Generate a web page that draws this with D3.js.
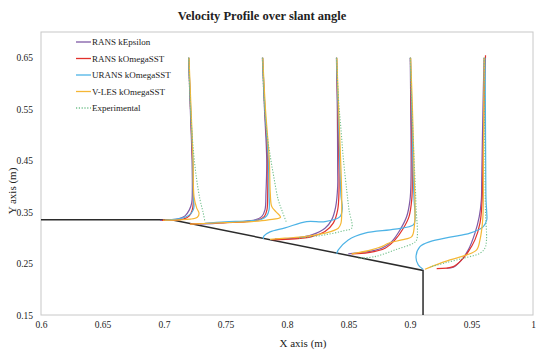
<!DOCTYPE html>
<html><head><meta charset="utf-8">
<script src="https://cdn.jsdelivr.net/npm/d3@7"></script>
<style>body{margin:0;background:#fff}svg{display:block}text{font-family:"Liberation Serif",serif !important;fill:#222}</style>
</head><body><svg id="c" width="550" height="356"></svg>
<script>
const seriesNames = ["RANS kEpsilon","RANS kOmegaSST","URANS kOmegaSST","V-LES kOmegaSST","Experimental"];
const seriesColors = ["#7f5aa6","#e2312b","#4db3e6","#f5b735","#72c08c"];
const xTicks = [0.6,0.65,0.7,0.75,0.8,0.85,0.9,0.95,1];
const yTicks = [0.15,0.25,0.35,0.45,0.55,0.65];
const wallX = [0.6,0.706,0.9106,0.9106];
const wallY = [0.335,0.335,0.2366,0.15];

// each series: five stations, each a list of [x, y] points (m)
const ransKEpsilon = [
 [[0.72,0.65],[0.7214,0.55],[0.7228,0.4516],[0.723,0.3868],[0.7225,0.3674],[0.7206,0.3543],[0.7171,0.3427],[0.7116,0.3368],[0.7049,0.3349],[0.6967,0.334]],
 [[0.78,0.65],[0.7817,0.55],[0.7835,0.4516],[0.7829,0.3868],[0.7821,0.3543],[0.7794,0.3413],[0.774,0.3349],[0.7632,0.3316],[0.7496,0.3296],[0.7415,0.3281],[0.7293,0.3271]],
 [[0.8402,0.65],[0.8409,0.55],[0.8412,0.4322],[0.8412,0.3997],[0.8396,0.3608],[0.8363,0.3349],[0.8309,0.3187],[0.8201,0.3057],[0.8092,0.3004],[0.7984,0.2979],[0.7902,0.2979]],
 [[0.9002,0.65],[0.9006,0.55],[0.9008,0.4127],[0.9,0.3738],[0.8973,0.3413],[0.8919,0.3154],[0.8851,0.2926],[0.877,0.2798],[0.8661,0.2732],[0.8553,0.2701],[0.8498,0.2687]],
 [[0.9602,0.65],[0.9593,0.55],[0.9583,0.4127],[0.958,0.3738],[0.9563,0.3413],[0.9528,0.309],[0.9474,0.2765],[0.9407,0.2537],[0.9352,0.2428],[0.9298,0.2409]]
];
const ransKOmegaSST = [
 [[0.7201,0.65],[0.7216,0.55],[0.7232,0.4516],[0.7238,0.3868],[0.7238,0.3674],[0.723,0.3543],[0.7206,0.3427],[0.7157,0.3362],[0.7076,0.3343],[0.6984,0.334]],
 [[0.7802,0.65],[0.782,0.55],[0.7843,0.4516],[0.7843,0.3868],[0.7837,0.3543],[0.7815,0.3413],[0.7767,0.3349],[0.7659,0.331],[0.7496,0.3296],[0.7211,0.3265]],
 [[0.8403,0.65],[0.8413,0.55],[0.8423,0.4322],[0.8423,0.3933],[0.8412,0.3543],[0.8376,0.3285],[0.8309,0.3121],[0.8201,0.3024],[0.8065,0.2979],[0.7878,0.2965]],
 [[0.9004,0.65],[0.901,0.55],[0.9019,0.4127],[0.9014,0.3738],[0.8992,0.3413],[0.8946,0.3187],[0.8878,0.296],[0.8797,0.2798],[0.8661,0.2712],[0.8526,0.2687]],
 [[0.9614,0.655],[0.9602,0.55],[0.9591,0.4127],[0.9585,0.3674],[0.9569,0.3285],[0.9528,0.296],[0.9474,0.2732],[0.942,0.257],[0.9352,0.244],[0.9217,0.2401]]
];
const uransKOmegaSST = [
 [[0.7201,0.65],[0.7217,0.55],[0.7234,0.4516],[0.7238,0.3802],[0.7244,0.3608],[0.7238,0.3543],[0.7217,0.3466],[0.7171,0.3401],[0.7103,0.3362],[0.7008,0.3343]],
 [[0.7802,0.65],[0.7821,0.55],[0.7848,0.4516],[0.7854,0.3868],[0.7854,0.3543],[0.7835,0.3427],[0.7794,0.3362],[0.7685,0.3329],[0.7496,0.331],[0.7333,0.3281]],
 [[0.8403,0.65],[0.8416,0.55],[0.8431,0.4322],[0.8439,0.3802],[0.845,0.3577],[0.8431,0.3413],[0.8309,0.3316],[0.816,0.3316],[0.7984,0.3193],[0.7862,0.3115],[0.7813,0.3037],[0.7807,0.2979]],
 [[0.9004,0.65],[0.9015,0.55],[0.9027,0.4127],[0.9033,0.3738],[0.9041,0.3349],[0.9027,0.3251],[0.8878,0.3168],[0.8634,0.309],[0.8498,0.296],[0.8417,0.2765],[0.8404,0.2687]],
 [[0.961,0.65],[0.9613,0.55],[0.9616,0.4127],[0.9618,0.3738],[0.9624,0.3479],[0.9624,0.3349],[0.9596,0.3218],[0.9488,0.309],[0.9325,0.3012],[0.9163,0.2926],[0.9081,0.2829],[0.9049,0.2635],[0.9067,0.2473],[0.9106,0.2389]]
];
const vlesKOmegaSST = [
 [[0.7203,0.65],[0.722,0.55],[0.7236,0.4516],[0.7244,0.3802],[0.7266,0.3577],[0.7285,0.3479],[0.7271,0.3401],[0.7211,0.3362],[0.713,0.3349],[0.6992,0.3343]],
 [[0.7803,0.65],[0.7825,0.55],[0.7856,0.4516],[0.7864,0.3868],[0.7876,0.3608],[0.7911,0.3504],[0.7947,0.3401],[0.7848,0.3349],[0.7713,0.3316],[0.7496,0.3296],[0.7211,0.3265]],
 [[0.8405,0.65],[0.842,0.55],[0.8439,0.4322],[0.8445,0.3802],[0.8445,0.3608],[0.8439,0.3285],[0.8417,0.3187],[0.8309,0.309],[0.8146,0.3024],[0.7984,0.2993],[0.7862,0.2969]],
 [[0.9005,0.65],[0.902,0.55],[0.9035,0.4127],[0.9041,0.3608],[0.9035,0.3218],[0.9014,0.3024],[0.8933,0.296],[0.8824,0.2895],[0.877,0.2829],[0.8729,0.2798],[0.8661,0.2751],[0.8526,0.2687]],
 [[0.9604,0.65],[0.96,0.55],[0.9596,0.4127],[0.9596,0.3738],[0.9591,0.3349],[0.9569,0.296],[0.9542,0.2765],[0.9461,0.2668],[0.9325,0.257],[0.919,0.2454],[0.9122,0.2389]]
];
const experimental = [
 [[0.72,0.65],[0.7211,0.5684],[0.7226,0.51],[0.7242,0.4614],[0.7266,0.4127],[0.7293,0.3738],[0.7317,0.3504],[0.7333,0.331]],
 [[0.78,0.65],[0.7813,0.5684],[0.7833,0.51],[0.7862,0.4614],[0.7894,0.4166],[0.7929,0.3738],[0.7963,0.3504],[0.7998,0.3285]],
 [[0.8402,0.65],[0.8419,0.5684],[0.8439,0.51],[0.8459,0.4516],[0.8485,0.3933],[0.8504,0.3543],[0.8526,0.3187],[0.8472,0.3144],[0.8309,0.3057],[0.8146,0.3008],[0.8081,0.2993]],
 [[0.9002,0.65],[0.9012,0.5684],[0.9023,0.51],[0.9033,0.4516],[0.9041,0.4127],[0.9049,0.3608],[0.9054,0.296],[0.9027,0.2895],[0.8878,0.2765],[0.8715,0.2635],[0.858,0.2603]],
 [[0.9602,0.65],[0.9606,0.5295],[0.961,0.4127],[0.9614,0.3479],[0.9622,0.296],[0.961,0.2804],[0.9569,0.2701],[0.9433,0.2603],[0.9285,0.2512],[0.9163,0.2434]]
];
const allSeries = [ransKEpsilon, ransKOmegaSST, uransKOmegaSST, vlesKOmegaSST, experimental];

const FONT = "'Liberation Serif', serif";
const svg = d3.select("#c");
const L=41,R=533,T=32,B=315;
const x = d3.scaleLinear().domain([0.6,1]).range([L,R]);
const y = d3.scaleLinear().domain([0.15,0.70]).range([B,T]);

svg.append("rect").attr("x",L).attr("y",T).attr("width",R-L).attr("height",B-T)
  .attr("fill","none").attr("stroke","#c8c8c8").attr("stroke-width",1);

const xAxis = svg.append("g").attr("transform",`translate(0,${B})`)
  .call(d3.axisBottom(x).tickValues(xTicks).tickSize(0).tickPadding(6).tickFormat(d3.format("~g")))
  .attr("font-family",FONT).attr("font-size",9.5);
xAxis.select(".domain").remove();
const yAxis = svg.append("g").attr("transform",`translate(${L},0)`)
  .call(d3.axisLeft(y).tickValues(yTicks).tickSize(0).tickPadding(8).tickFormat(d3.format(".2f")))
  .attr("font-family",FONT).attr("font-size",9.5);
yAxis.select(".domain").remove();

svg.append("text").attr("x",262).attr("y",20).attr("text-anchor","middle").attr("font-family",FONT)
  .attr("font-size",12.5).attr("font-weight","bold").text("Velocity Profile over slant angle");
svg.append("text").attr("x",303).attr("y",347).attr("text-anchor","middle").attr("font-family",FONT)
  .attr("font-size",11).text("X axis (m)");
svg.append("text").attr("transform","translate(16,191) rotate(-90)").attr("text-anchor","middle").attr("font-family",FONT)
  .attr("font-size",11).text("Y axis (m)");

// wall geometry
const wall = d3.line().x(d=>x(d)).y((d,i)=>y(wallY[i]));
svg.append("path").attr("d",wall(wallX)).attr("fill","none").attr("stroke","#2b2b2b").attr("stroke-width",1.5);

const line = d3.line().x(d=>x(d[0])).y(d=>y(d[1])).curve(d3.curveCatmullRom.alpha(0.5));
allSeries.forEach((s,si)=>{
  const g = svg.append("g");
  s.forEach(st=>{
    g.append("path").attr("d",line(st)).attr("fill","none")
      .attr("stroke",seriesColors[si]).attr("stroke-width",si===4?1.1:1.2)
      .attr("stroke-dasharray",si===4?"1.2,1.6":null);
  });
});

const lg = svg.append("g");
seriesNames.forEach((n,i)=>{
  const yy = 42 + i*16.5;
  lg.append("line").attr("x1",76).attr("x2",91).attr("y1",yy).attr("y2",yy)
    .attr("stroke",seriesColors[i]).attr("stroke-width",1.3).attr("stroke-dasharray",i===4?"1.2,1.6":null);
  lg.append("text").attr("x",92).attr("y",yy+3.2).attr("font-family",FONT).attr("font-size",9).text(n);
});
</script></body></html>
